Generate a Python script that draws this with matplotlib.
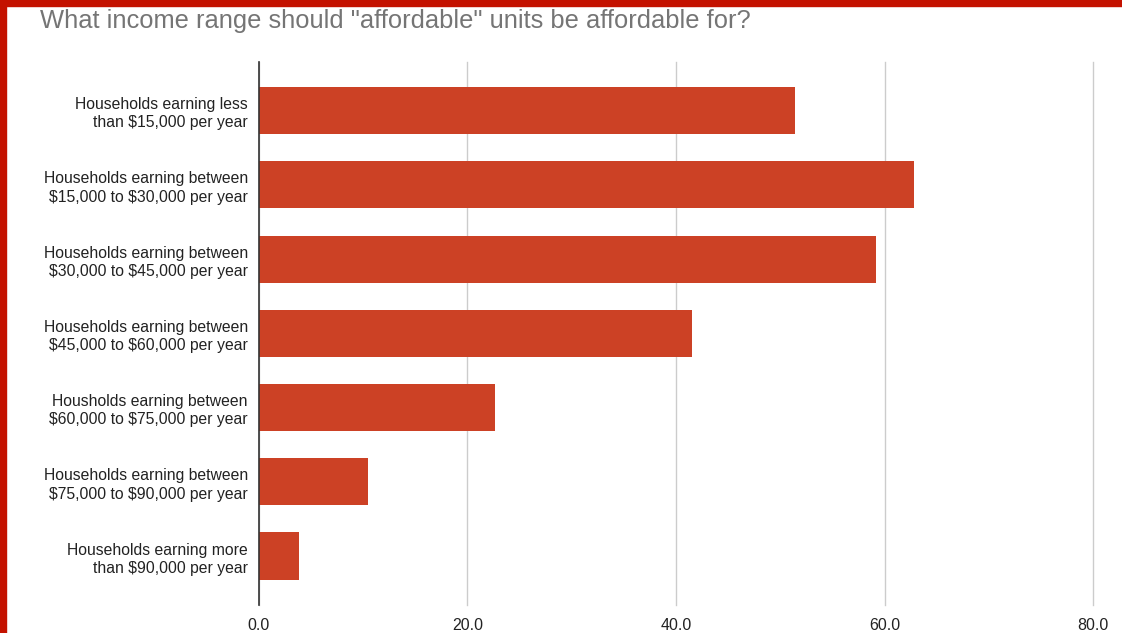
import matplotlib.pyplot as plt
from matplotlib.patches import Rectangle

# survey results
categories = [
    "Households earning less\nthan \\$15,000 per year",
    "Households earning between\n\\$15,000 to \\$30,000 per year",
    "Households earning between\n\\$30,000 to \\$45,000 per year",
    "Households earning between\n\\$45,000 to \\$60,000 per year",
    "Housholds earning between\n\\$60,000 to \\$75,000 per year",
    "Households earning between\n\\$75,000 to \\$90,000 per year",
    "Households earning more\nthan \\$90,000 per year",
]
values = [51.4, 62.8, 59.2, 41.5, 22.6, 10.5, 3.8]
xticks = [0, 20, 40, 60, 80]

plt.rcParams["font.family"] = ["Liberation Sans", "DejaVu Sans"]

fig = plt.figure(figsize=(11.22, 6.33), dpi=100)
ax = fig.add_axes([0.2308, 0.0442, 0.9742 - 0.2308, 0.902 - 0.0442])

ypos = list(range(len(categories)))
ax.barh(ypos, values, height=0.635, color="#cc4125", zorder=3)

ax.set_xlim(0, 80)
ax.set_ylim(6.66, -0.655)
ax.set_yticks(ypos)
ax.set_yticklabels(categories, fontsize=11.3, color="#222222", linespacing=1.27)
ax.set_xticks(xticks)
ax.set_xticklabels([f"{t:.1f}" for t in xticks], fontsize=11.5, color="#222222")
ax.tick_params(axis="both", length=0)
ax.tick_params(axis="y", pad=8)
ax.tick_params(axis="x", pad=9)

ax.grid(axis="x", color="#cccccc", linewidth=1, zorder=0)
ax.grid(axis="y", visible=False)
for line in ax.get_xgridlines():
    line.set_clip_on(False)
for side in ["top", "right", "bottom"]:
    ax.spines[side].set_visible(False)
ax.spines["left"].set_color("#333333")
ax.spines["left"].set_linewidth(1.2)
ax.spines["left"].set_zorder(4)

fig.text(40 / 1122, 1 - 21 / 633, 'What income range should "affordable" units be affordable for?',
         fontsize=18.4, color="#757575", ha="left", va="center")

# red frame along the top and left edges
fig.patches.append(Rectangle((0, 0), 6 / 1122, 1, transform=fig.transFigure,
                             color="#c41200", zorder=10))
fig.patches.append(Rectangle((0, 1 - 6 / 633), 1, 6 / 633, transform=fig.transFigure,
                             color="#c41200", zorder=10))

fig.savefig("out.png", dpi=100)
